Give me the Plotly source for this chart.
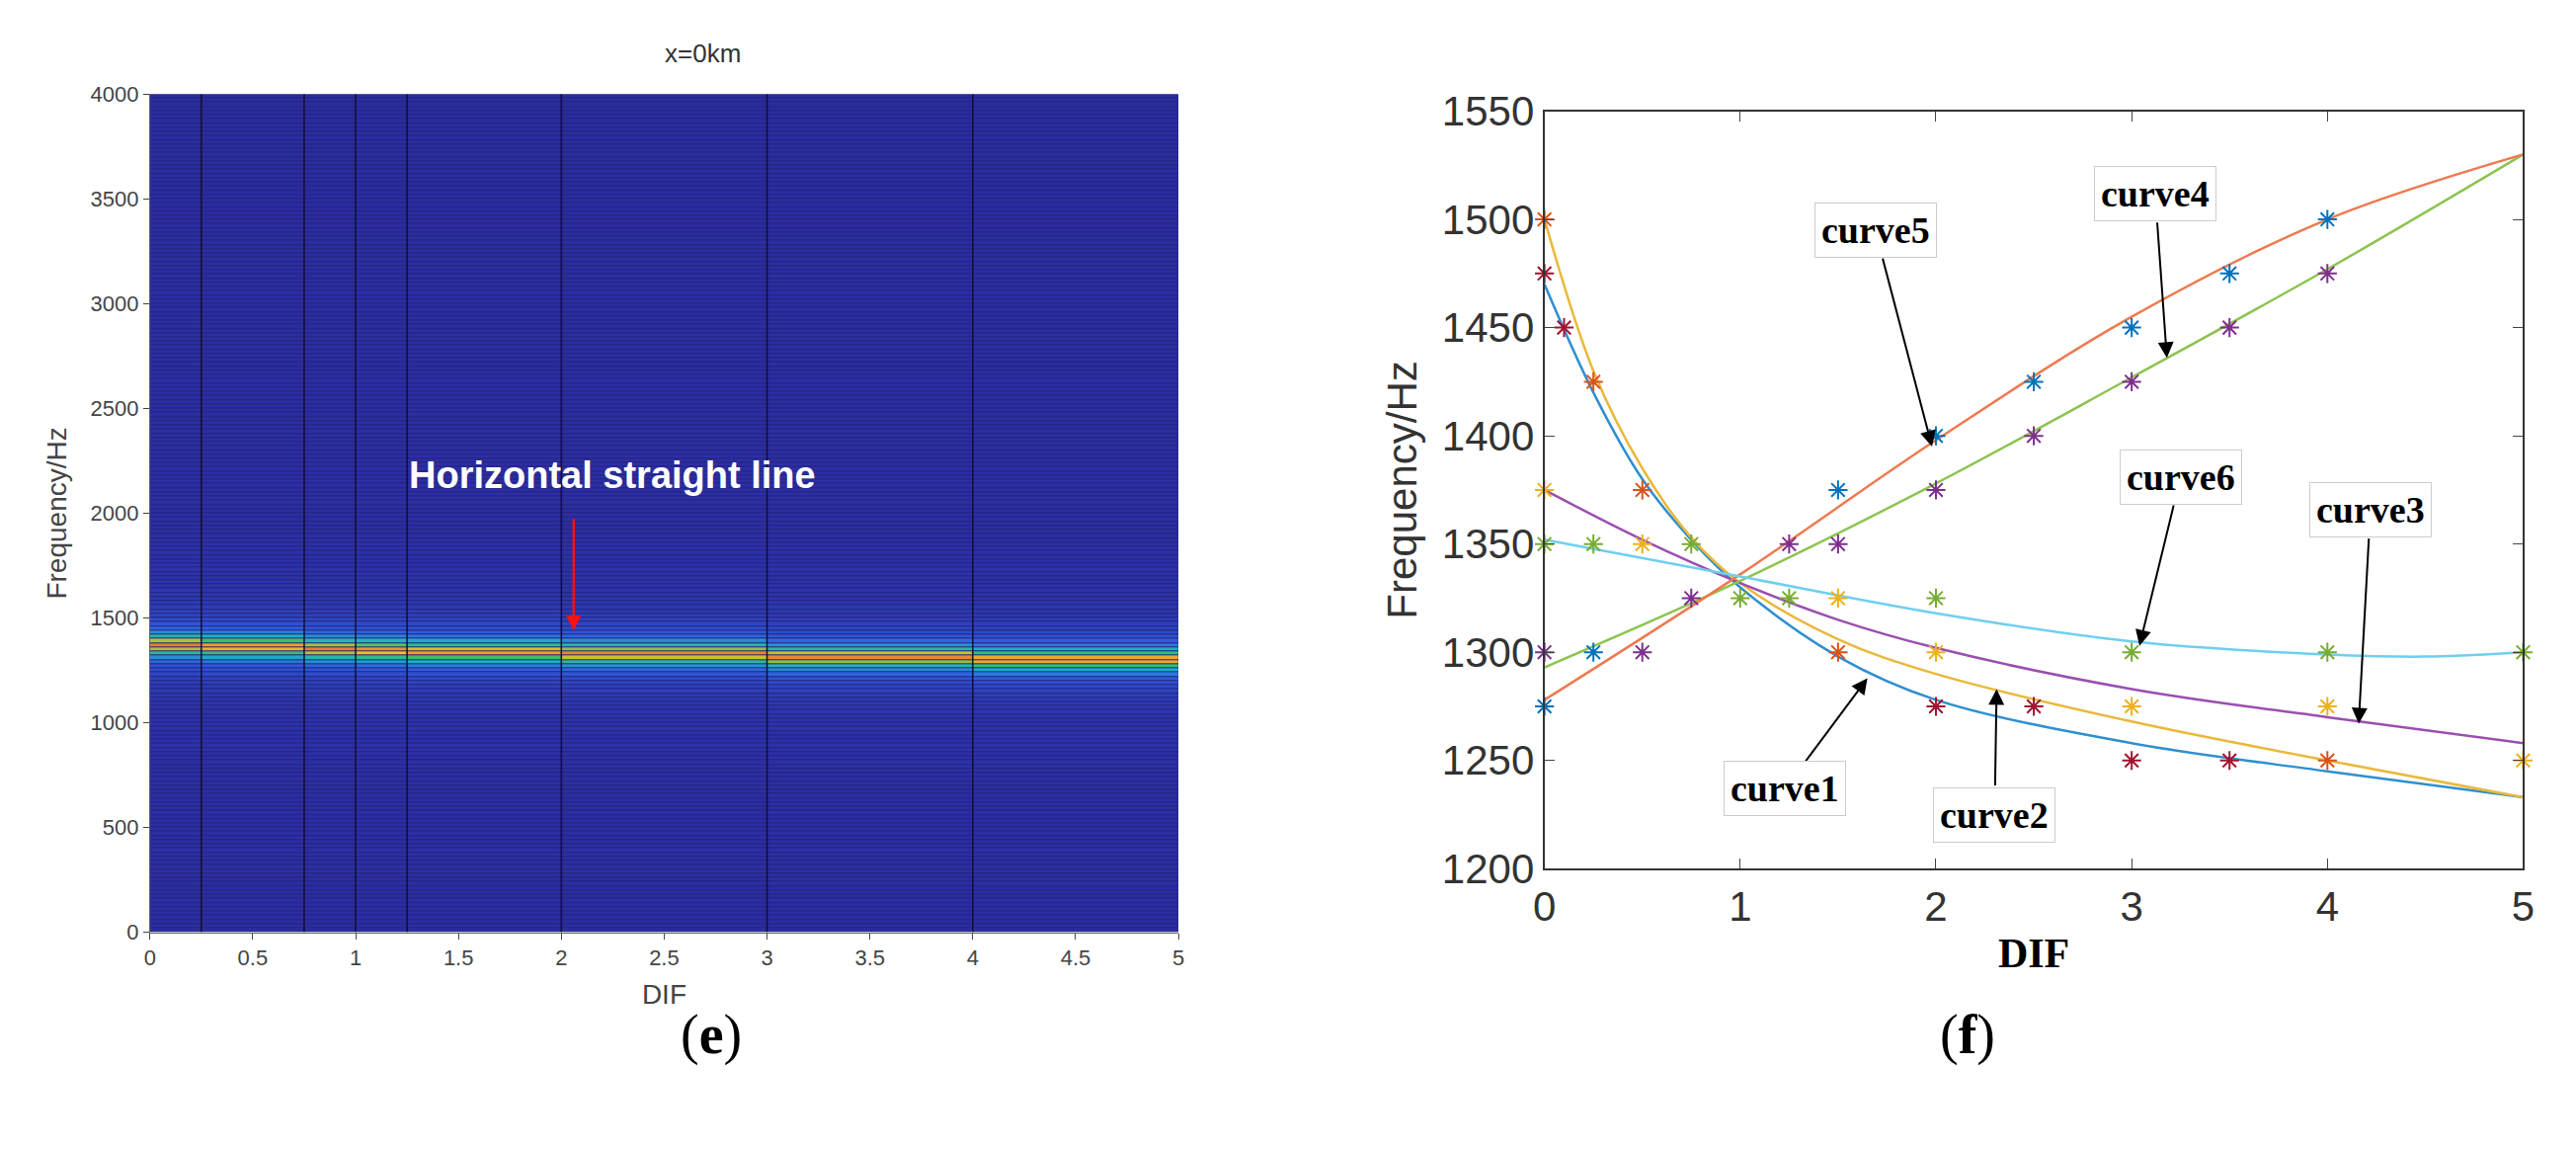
import numpy as np
import plotly.graph_objects as go

# ---- left panel (e): spectrum vs DIF ----
seg_edges = [0, 0.25, 0.75, 1, 1.25, 2, 3, 4, 5]
seg_centre = [1370, 1362, 1350, 1345, 1338, 1328, 1312, 1300]   # Hz, bright line per segment
prof_offset = [0, 20, 40, 60, 80, 100, 140, 200, 300, 600, 4000]
prof_level = [1.0, 0.8, 0.55, 0.42, 0.32, 0.26, 0.2, 0.15, 0.12, 0.1, 0.08]
freq_edges = list(range(0, 4001, 20))

# ---- right panel (f): fitted curves and measured points ----
c1_x = [0, 0.25, 0.5, 0.75, 1, 1.5, 2, 3, 4, 5]
c1_y = [1470, 1420, 1380, 1352, 1330, 1298, 1278, 1258, 1245, 1233]
c2_x = [0, 0.25, 0.5, 0.75, 1, 1.5, 2, 3, 4, 5]
c2_y = [1500, 1430, 1385, 1353, 1332, 1306, 1290, 1268, 1250, 1233]
c3_x = [0, 0.5, 1, 1.5, 2, 3, 4, 5]
c3_y = [1375, 1352, 1332, 1315, 1302, 1283, 1270, 1258]
c4_x = [0, 1, 2, 3, 4, 5]
c4_y = [1293, 1333, 1378, 1427, 1477, 1530]
c5_x = [0, 1, 2, 3, 4, 5]
c5_y = [1278, 1336, 1398, 1455, 1500, 1530]
c6_x = [0, 1, 2, 3, 4, 4.5, 5]
c6_y = [1352, 1335, 1318, 1305, 1299, 1298, 1300]

blue_x = [0, 0.25, 1.5, 2, 2.5, 3, 3.5, 4]
blue_y = [1275, 1300, 1375, 1400, 1425, 1450, 1475, 1500]
orange_x = [0, 0.25, 0.5, 1.5, 4]
orange_y = [1500, 1425, 1375, 1300, 1250]
red_x = [0, 0.1, 2, 2.5, 3, 3.5]
red_y = [1475, 1450, 1275, 1275, 1250, 1250]
yellow_x = [0, 0.5, 1.5, 2, 3, 4, 5]
yellow_y = [1375, 1350, 1325, 1300, 1275, 1275, 1250]
purple_x = [0, 0.5, 0.75, 1.25, 1.5, 2, 2.5, 3, 3.5, 4]
purple_y = [1300, 1300, 1325, 1350, 1350, 1375, 1400, 1425, 1450, 1475]
green_x = [0, 0.25, 0.75, 1, 1.25, 2, 3, 4, 5]
green_y = [1350, 1350, 1350, 1325, 1325, 1325, 1300, 1300, 1300]

labels = ["curve1", "curve2", "curve3", "curve4", "curve5", "curve6"]
label_pos = [(1.23, 1237), (2.3, 1225), (4.22, 1366), (3.12, 1512), (1.69, 1495), (3.25, 1381)]
arrow_tip = [(1.65, 1288), (2.31, 1283), (4.16, 1267), (3.18, 1436), (1.98, 1395), (3.04, 1303)]

# build intensity grid
fc = np.array(freq_edges[:-1]) + 10
z = np.array([[np.interp(abs(f - c), prof_offset, prof_level) for c in seg_centre] for f in fc])

fig = go.Figure()
fig.add_trace(go.Heatmap(
    x=seg_edges, y=freq_edges, z=z, zmin=0, zmax=1, ygap=1, showscale=False,
    colorscale=[[0, '#1c1c78'], [0.1, '#2d2ea4'], [0.3, '#2f5ee0'], [0.5, '#1eb2c8'],
                [0.7, '#3cc060'], [0.85, '#e6c224'], [1, '#f07a30']],
    xaxis='x', yaxis='y'))

cols = ['#2f8fd0', '#eab83a', '#9a4fb0', '#8cc450', '#ee7a50', '#6fcff0']
for (cx, cy), col in zip([(c1_x, c1_y), (c2_x, c2_y), (c3_x, c3_y), (c4_x, c4_y), (c5_x, c5_y), (c6_x, c6_y)], cols):
    fig.add_trace(go.Scatter(x=cx, y=cy, mode='lines', line=dict(color=col, width=2.5, shape='spline'),
                             xaxis='x2', yaxis='y2', showlegend=False))

for mx, my, col in [(blue_x, blue_y, '#0072BD'), (orange_x, orange_y, '#D95319'), (red_x, red_y, '#A2142F'),
                    (yellow_x, yellow_y, '#EDB120'), (purple_x, purple_y, '#7E2F8E'), (green_x, green_y, '#77AC30')]:
    fig.add_trace(go.Scatter(x=mx, y=my, mode='markers',
                             marker=dict(symbol='asterisk-open', size=16, color=col,
                                         line=dict(color=col, width=2)),
                             xaxis='x2', yaxis='y2', showlegend=False, cliponaxis=False))

shapes = [dict(type='rect', xref='x', yref='y', x0=0, x1=5, y0=0, y1=4000, layer='below',
               fillcolor='#23237a', line=dict(width=0))]
for e in seg_edges[1:-1]:
    shapes.append(dict(type='line', xref='x', yref='y', x0=e, x1=e, y0=0, y1=4000,
                       line=dict(color='#101030', width=1.5)))

ann = []
for lab, (lx, ly), (tx, ty) in zip(labels, label_pos, arrow_tip):
    ann.append(dict(xref='x2', yref='y2', x=tx, y=ty, ax=lx, ay=ly,
                    axref='x2', ayref='y2', text='', showarrow=True, arrowhead=2, arrowsize=1.6,
                    arrowwidth=2, arrowcolor='black', standoff=0, startstandoff=28))
    ann.append(dict(xref='x2', yref='y2', x=lx, y=ly, text='<b>' + lab + '</b>', showarrow=False,
                    font=dict(family='Liberation Serif', size=38, color='black'),
                    bgcolor='white', bordercolor='#cccccc', borderwidth=1, borderpad=6))

ann += [
    dict(xref='x', yref='y', x=2.25, y=2180, text='<b>Horizontal straight line</b>', showarrow=False,
         font=dict(family='Liberation Sans', size=38, color='white')),
    dict(xref='x', yref='y', x=2.06, y=1440, ax=2.06, ay=1980, axref='x', ayref='y', text='',
         showarrow=True, arrowhead=2, arrowsize=1.2, arrowwidth=2.5, arrowcolor='#ff1010'),
    dict(xref='paper', yref='paper', x=657 / 2608, y=1 - 42 / 1163, text='x=0km', showarrow=False,
         yanchor='bottom', font=dict(family='Liberation Sans', size=26, color='#333333')),
    dict(xref='paper', yref='paper', x=673 / 2608, y=1 - 1094 / 1163, text='(<b>e</b>)', showarrow=False,
         font=dict(family='Liberation Serif', size=56, color='black')),
    dict(xref='paper', yref='paper', x=2021 / 2608, y=1 - 1094 / 1163, text='(<b>f</b>)', showarrow=False,
         font=dict(family='Liberation Serif', size=56, color='black')),
]

fig.update_layout(
    width=2608, height=1163, margin=dict(l=0, r=0, t=0, b=0),
    paper_bgcolor='white', plot_bgcolor='white', showlegend=False,
    shapes=shapes, annotations=ann,
    xaxis=dict(domain=[133 / 2608, 1184 / 2608], range=[0, 5], dtick=0.5, ticks='outside', ticklen=6,
               showgrid=False, zeroline=False, tickfont=dict(family='Liberation Sans', size=22, color='#444'),
               title=dict(text='DIF', font=dict(family='Liberation Sans', size=28, color='#444')),
               showline=True, linecolor='#666'),
    yaxis=dict(domain=[1 - 951 / 1163, 1 - 67 / 1163], range=[0, 4000], dtick=500, ticks='outside', ticklen=6,
               showgrid=False, zeroline=False, tickfont=dict(family='Liberation Sans', size=22, color='#444'),
               title=dict(text='Frequency/Hz', font=dict(family='Liberation Sans', size=28, color='#444')),
               showline=True, linecolor='#666'),
    xaxis2=dict(domain=[1558 / 2608, 2558 / 2608], range=[0, 5], dtick=1, ticks='inside', ticklen=10,
                anchor='y2', mirror='ticks', showline=True, linecolor='#333', linewidth=2,
                showgrid=False, zeroline=False, tickfont=dict(family='Liberation Sans', size=42, color='#333'),
                title=dict(text='<b>DIF</b>', standoff=10,
                           font=dict(family='Liberation Serif', size=42, color='black'))),
    yaxis2=dict(domain=[1 - 884 / 1163, 1 - 85 / 1163], range=[1200, 1550], dtick=50, ticks='inside', ticklen=10,
                anchor='x2', mirror='ticks', showline=True, linecolor='#333', linewidth=2,
                showgrid=False, zeroline=False, tickfont=dict(family='Liberation Sans', size=42, color='#333'),
                title=dict(text='Frequency/Hz', standoff=12,
                           font=dict(family='Liberation Sans', size=42, color='#333'))),
)

fig.write_html("out.html")
